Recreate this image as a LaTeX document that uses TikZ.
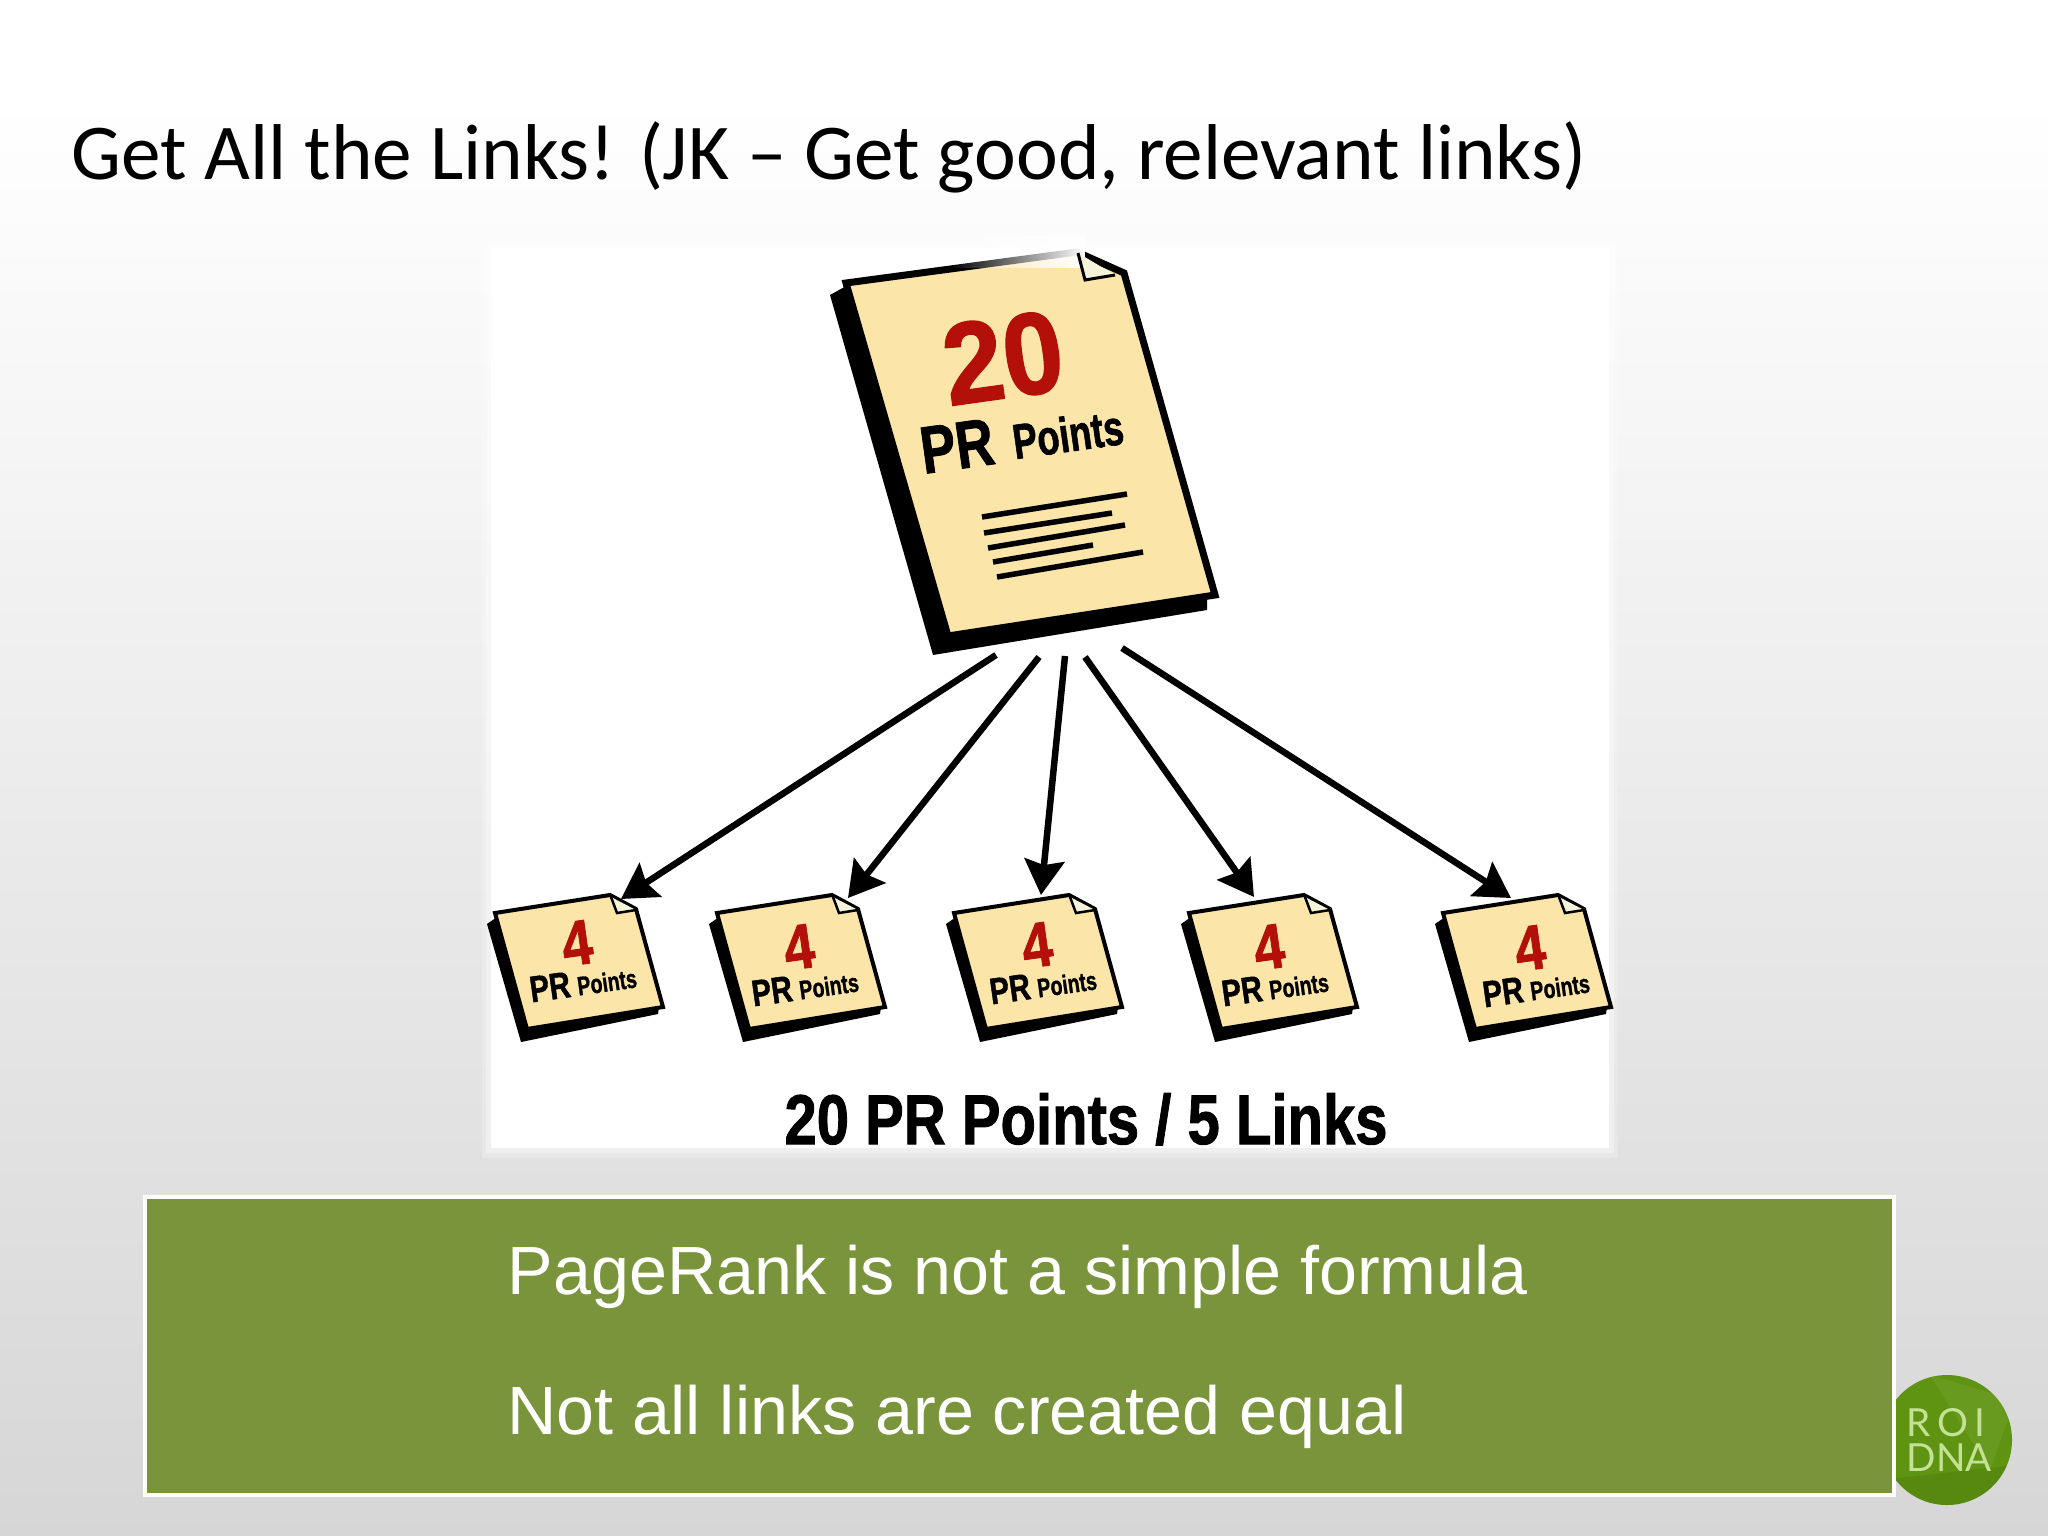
\documentclass[tikz,border=0pt]{standalone}
\usepackage{fontspec}
\setmainfont{Liberation Sans}
\newfontfamily\titlefont{Carlito}
\newfontfamily\logofont{Lato}
\newfontfamily\heavyfont[FakeBold=1.4]{Liberation Sans Bold}
\usetikzlibrary{arrows.meta,fadings}
\definecolor{paper}{HTML}{FBE5A8}
\definecolor{foldcol}{HTML}{F5F3DA}
\definecolor{prred}{HTML}{B3100A}
\definecolor{boxgreen}{HTML}{79943B}
\definecolor{logogreen}{HTML}{5F9412}
\definecolor{logotext}{HTML}{C4E296}
\begin{document}
\begin{tikzpicture}[x=0.01cm, y=-0.01cm,
    bigtext/.style={font=\fontsize{#1}{#1}\heavyfont\selectfont, inner sep=0pt, rotate=8, xscale=.86, transform shape},
    ptr/.style={line width=0.065cm, -{Stealth[length=0.35cm, width=0.4cm, inset=0.05cm]}},
    rule/.style={line width=0.055cm},
    boxtext/.style={font=\fontsize{19.4}{24}\selectfont, text=white, anchor=base west, inner sep=0pt}]

\def\ytop{895};

% slide and soft image
\fill[white] (0, 0) rectangle (2048, 1536);
\shade[top color=white, bottom color=black!16] (0, 100) rectangle (2048, 1536);
\fill[white, opacity=.2] (482, 240) rectangle (1618, 1158);
\fill[white, opacity=.35] (486, 244) rectangle (1614, 1153);
\fill[white] (491, 248) rectangle (1609, 1148);

\node[font=\fontsize{22.5}{24}\titlefont\selectfont, anchor=base west, inner sep=0pt] (title) at (71, 179) {Get All the Links! (JK – Get good, relevant links)};

% big page
\fill[black] (830, 295) -- (848, 285) -- (1207, 590) -- (1207, 610) -- (933, 655) -- cycle;
\filldraw[fill=paper, draw=black, line width=0.07cm, line join=miter] (846, 283) -- (1077, 252) -- (1124, 273) -- (1215, 595) -- (948, 636) -- cycle;
\fill[white, path fading=west] (950, 236) rectangle (1085, 268);
\filldraw[fill=foldcol, draw=black, line width=0.03cm] (1078, 253) -- (1085, 280) -- (1115, 275);

\node[bigtext=33, text=prred, xscale=1.08] (twenty) at (1003, 358) {20};
\node[bigtext=19, xscale=.92] (bigpr) at (957, 446) {PR};
\node[bigtext=14, xscale=.86] (bigpoints) at (1068, 434) {Points};

\draw[rule] (982, 517) -- (1127, 494);
\draw[rule] (984, 533) -- (1112, 513);
\draw[rule] (988, 548) -- (1125, 525);
\draw[rule] (993, 562) -- (1093, 545);
\draw[rule] (997, 577) -- (1143, 552);

% small pages: name, left edge, text dx, text dy
\def\smallpage#1#2#3#4{
  \fill[black] (#2 - 8, 924) -- (#2 + 5, 915) -- (#2 + 165, 1000) -- (#2 + 163, 1014) -- (#2 + 26, 1042) -- cycle;
  \filldraw[fill=paper, draw=black, line width=0.04cm] (#2, 913) -- (#2 + 115, \ytop) -- (#2 + 141, 909) -- (#2 + 168, 1007) -- (#2 + 32, 1029) -- cycle;
  \filldraw[fill=foldcol, draw=black, line width=0.025cm] (#2 + 116, 897) -- (#2 + 122, 913) -- (#2 + 141, 910);
  \node[bigtext=18, text=prred] (four#1) at (#2 + 82 + #3, 943 + #4) {4};
  \node[bigtext=10.5, xscale=.92] (pr#1) at (#2 + 55 + #3, 987 + #4) {PR};
  \node[bigtext=7.5, xscale=.86] (points#1) at (#2 + 112 + #3, 982 + #4) {Points};
}
\smallpage{a}{495}{0}{0}
\smallpage{b}{717}{0}{4}
\smallpage{c}{954}{1}{2}
\smallpage{d}{1189}{-2}{4}
\smallpage{e}{1443}{5}{5}

% arrows from big page to small pages
\coordinate (outa) at (996, 655);
\coordinate (outb) at (1039, 657);
\coordinate (outc) at (1065, 656);
\coordinate (outd) at (1085, 657);
\coordinate (oute) at (1122, 648);
\coordinate (ina) at (621, 899);
\coordinate (inb) at (848, 898);
\coordinate (inc) at (1041, 895);
\coordinate (ind) at (1254, 897);
\coordinate (ine) at (1511, 898);
\draw[ptr] (outa) -- (ina);
\draw[ptr] (outb) -- (inb);
\draw[ptr] (outc) -- (inc);
\draw[ptr] (outd) -- (ind);
\draw[ptr] (oute) -- (ine);

\node[font=\fontsize{20}{24}\heavyfont\selectfont, inner sep=0pt, xscale=.825, transform shape, anchor=base] (sum) at (1086, 1144) {20 PR Points / 5 Links};

% logo
\fill[logogreen] (1947, 1440) circle (65);
\begin{scope}
\clip (1947, 1440) circle (65);
\fill[black, opacity=.08] (1880, 1480) -- (2015, 1465) -- (2015, 1510) -- (1880, 1510) -- cycle;
\fill[white, opacity=.06] (1930, 1375) -- (2015, 1400) -- (1990, 1470) -- cycle;
\end{scope}
\node[font=\fontsize{11}{11}\logofont\selectfont, text=logotext, anchor=base west, inner sep=0pt] (roi) at (1906, 1436) {R\,O\,I};
\node[font=\fontsize{11}{11}\logofont\selectfont, text=logotext, anchor=base west, inner sep=0pt] (dna) at (1906, 1471) {DNA};

% green box
\filldraw[fill=boxgreen, draw=white, line width=0.04cm] (145, 1197) rectangle (1894, 1495);
\node[boxtext] (line1) at (507, 1294) {PageRank is not a simple formula};
\node[boxtext] (line2) at (507, 1434) {Not all links are created equal};

\end{tikzpicture}
\end{document}
